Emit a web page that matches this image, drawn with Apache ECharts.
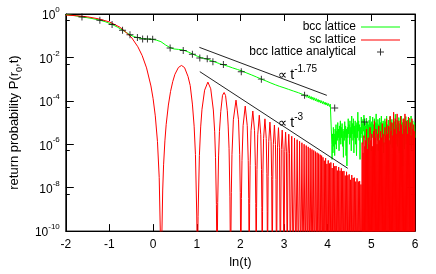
<!DOCTYPE html>
<html><head><meta charset="utf-8">
<script src="https://cdn.jsdelivr.net/npm/echarts@6/dist/echarts.min.js"></script>
<style>html,body{margin:0;padding:0;background:#fff}#c{width:436px;height:274px}</style>
</head><body><div id="c"></div>
<script>
// ---- data: [ln(t), P(r0,t)] ----
const xTicks = [-2, -1, 0, 1, 2, 3, 4, 5, 6];
const yExponents = [0, -2, -4, -6, -8, -10];

const bccSmooth = [[-2.0,0.93],[-1.8,0.84],[-1.63,0.74],[-1.4,0.62],[-1.22,0.52],[-1.08,0.43],[-0.94,0.33],[-0.82,0.25],[-0.70,0.18],[-0.61,0.14],[-0.53,0.11],[-0.45,0.093],[-0.36,0.082],[-0.24,0.073],[-0.13,0.070],[-0.01,0.068],[0.08,0.062],[0.18,0.053],[0.28,0.038],[0.38,0.029],[0.48,0.0245],[0.58,0.0234],[0.67,0.0224],[0.74,0.020],[0.82,0.0173],[0.93,0.0136],[1.02,0.0112],[1.11,0.0096],[1.18,0.0089],[1.26,0.0081],[1.33,0.0071],[1.41,0.0062],[1.52,0.0052],[1.63,0.0044],[1.72,0.0039],[1.82,0.0033],[1.93,0.0028],[2.04,0.00235],[2.15,0.0019],[2.26,0.00155],[2.37,0.00125],[2.48,0.0010],[2.59,8.2e-4],[2.70,6.6e-4],[2.80,5.5e-4],[2.89,4.7e-4],[3.0,4.0e-4],[3.1,3.4e-4],[3.22,2.8e-4],[3.33,2.36e-4],[3.42,2.0e-4],[3.48,1.8e-4]];
const bccBand = [[3.50,2.0e-4],[3.52,1.45e-4],[3.54,1.84e-4],[3.56,1.35e-4],[3.58,1.71e-4],[3.60,1.24e-4],[3.62,1.58e-4],[3.64,1.15e-4],[3.66,1.47e-4],[3.68,1.07e-4],[3.70,1.37e-4],[3.72,0.99e-4],[3.74,1.27e-4],[3.76,0.92e-4],[3.78,1.17e-4],[3.80,0.86e-4],[3.82,1.09e-4],[3.84,0.79e-4],[3.86,1.01e-4],[3.88,0.74e-4],[3.90,0.94e-4],[3.92,0.69e-4],[3.94,0.87e-4],[3.96,0.64e-4],[3.98,0.81e-4],[4.00,0.59e-4],[4.02,0.75e-4],[4.04,0.55e-4],[4.06,0.70e-4],[4.08,0.59e-4],[4.085,5.5e-5]];
const bccNoise = [[4.095,1e-6],[4.10,2e-7],[4.11,3e-6],[4.12,4e-7],[4.13,6e-6],[4.14,8e-7],[4.15,3e-6],[4.16,3e-7],[4.17,5e-6],[4.18,1e-6],[4.19,8e-6],[4.20,6e-7],[4.21,4e-6],[4.22,1.5e-6],[4.23,1e-5],[4.24,2e-6],[4.25,5e-6],[4.26,5e-7],[4.27,7e-6],[4.28,1.5e-6],[4.29,1.2e-5],[4.30,1e-6],[4.31,6e-6],[4.32,2e-6],[4.33,9e-6],[4.34,8e-7],[4.35,5e-6],[4.36,2.5e-7],[4.37,4e-6],[4.38,1.5e-6],[4.39,1.1e-5],[4.40,2e-6],[4.41,7e-6],[4.42,3e-7],[4.43,5e-6],[4.44,1e-7],[4.45,6e-6],[4.46,2e-6],[4.47,1.5e-5],[4.48,3e-6],[4.49,8e-6],[4.50,1e-6],[4.51,1.2e-5],[4.52,2e-6],[4.53,6e-6],[4.54,5e-7],[4.55,2e-5],[4.56,3e-6],[4.57,9e-6],[4.58,1.5e-6],[4.59,1.5e-5],[4.60,4e-7],[4.61,7e-6],[4.62,2e-6],[4.63,1.2e-5],[4.64,1e-6],[4.65,8e-6],[4.66,3e-7],[4.67,1e-5],[4.68,2e-6],[4.69,3e-5],[4.70,4e-6],[4.71,1.2e-5],[4.72,1.5e-6],[4.73,8e-6],[4.74,2e-7],[4.75,6e-6],[4.76,2e-6],[4.77,1.8e-5],[4.78,3e-6],[4.79,9e-6],[4.80,1e-6],[4.81,1.4e-5],[4.82,4e-6],[4.83,2.2e-5],[4.84,2e-6],[4.85,1e-5],[4.86,6e-7],[4.87,7e-6],[4.88,2.5e-6],[4.89,1.6e-5],[4.90,3e-6],[4.91,1e-5],[4.92,1.5e-7],[4.93,8e-6],[4.94,2e-6],[4.95,1.3e-5],[4.96,1e-6],[4.97,2e-5],[4.98,3e-6],[4.99,9e-6],[5.00,5e-7],[5.01,1.1e-5],[5.02,2e-6],[5.03,1.8e-5],[5.04,4e-6],[5.05,8e-6],[5.06,1e-6],[5.07,1.5e-5],[5.08,3e-7],[5.09,1e-5],[5.10,2e-6],[5.11,2.5e-5],[5.12,3e-6],[5.13,9e-6],[5.14,1.5e-6],[5.15,1.4e-5],[5.16,5e-7],[5.17,8e-6],[5.18,2e-6],[5.19,1.6e-5],[5.20,1e-6],[5.21,1e-5],[5.22,3e-6],[5.23,2e-5],[5.24,8e-7],[5.25,7e-6],[5.26,2e-6],[5.27,1.2e-5],[5.28,4e-7],[5.29,9e-6],[5.30,2.5e-6],[5.31,1.5e-5],[5.32,1e-6],[5.33,1.1e-5],[5.34,3e-6],[5.35,2e-5],[5.36,6e-7],[5.37,8e-6],[5.38,1.5e-6],[5.39,1.3e-5],[5.40,4e-8],[5.41,6e-6],[5.42,2e-6],[5.43,1.8e-5],[5.44,1e-6],[5.45,1e-5],[5.46,3e-6],[5.47,1.4e-5],[5.48,7e-7],[5.49,9e-6],[5.50,2e-6],[5.51,1.6e-5],[5.52,5e-7],[5.53,1.1e-5],[5.54,2e-6],[5.55,2.4e-5],[5.56,1e-6],[5.57,8e-6],[5.58,3e-6],[5.59,1.3e-5],[5.60,8e-7],[5.61,1e-5],[5.62,2e-6],[5.63,1.7e-5],[5.64,4e-7],[5.65,9e-6],[5.66,2.5e-6],[5.67,1.4e-5],[5.68,1e-6],[5.69,2e-5],[5.70,3e-6],[5.71,1e-5],[5.72,1e-7],[5.73,7e-6],[5.74,2e-6],[5.75,1.5e-5],[5.76,6e-7],[5.77,1.1e-5],[5.78,3e-6],[5.79,1.9e-5],[5.80,1e-6],[5.81,9e-6],[5.82,2e-6],[5.83,1.3e-5],[5.84,4e-7],[5.85,8e-6],[5.86,2.5e-6],[5.87,1.6e-5],[5.88,1e-6],[5.89,1e-5],[5.90,3e-6],[5.91,2e-5],[5.92,6e-7],[5.93,9e-6],[5.94,2e-6],[5.95,1.2e-5],[5.96,1e-6],[5.97,7e-6],[5.98,3e-6],[5.99,1e-5],[6.00,2e-6]];

const bccAnalytical = [[-1.63,0.73],[-1.22,0.52],[-0.94,0.33],[-0.70,0.18],[-0.53,0.11],[-0.36,0.082],[-0.24,0.071],[-0.13,0.071],[-0.01,0.069],[0.39,0.027],[0.69,0.021],[0.90,0.014],[1.07,0.0093],[1.24,0.0087],[1.37,0.0064],[1.61,0.0047],[2.02,0.0022],[2.48,0.001],[3.47,1.8e-4],[4.16,4.7e-5],[4.85,1.07e-5]];

const scDecay = [[-2,0.896],[-1.75,0.83],[-1.5,0.739],[-1.25,0.60],[-1,0.431],[-0.75,0.241],[-0.5,0.086],[-0.35,0.031],[-0.25,0.0121],[-0.15,3.29e-3],[-0.05,4.85e-4],[0,1.26e-4],[0.05,2.03e-5],[0.1,1.32e-6],[0.14,2.9e-8],[0.17,2.9e-11]];
const scArches = [
 [0.20,6e-11],[0.22,7.8e-9],[0.24,1.13e-7],[0.27,1.43e-6],[0.30,8.3e-6],[0.35,6.4e-5],[0.40,2.73e-4],[0.45,7.7e-4],[0.50,1.67e-3],[0.58,3.45e-3],[0.65,4.27e-3],[0.72,3.41e-3],[0.80,1.32e-3],[0.85,5.1e-4],[0.90,7.1e-5],[0.94,6.8e-6],[0.97,3.4e-7],[1.00,5.5e-10],
 [1.03,4.8e-10],[1.06,3.0e-7],[1.09,6.3e-6],[1.12,4.1e-5],[1.18,3.1e-4],[1.255,7.3e-4],[1.32,3.6e-4],[1.38,3.8e-5],[1.41,4.0e-6],[1.43,2.4e-7],[1.45,1.7e-9],
 [1.48,2.1e-9],[1.50,2.9e-7],[1.52,3.9e-6],[1.55,3.2e-5],[1.59,1.8e-4],[1.627,2.42e-4],[1.66,1.75e-4],[1.70,3.5e-5],[1.72,6.9e-6],[1.74,6.5e-7],[1.76,3.8e-9],
 [1.7918,5.9e-9],[1.8070,3.4e-7],[1.8387,1.35e-5],[1.8992,1.08e-4],[1.9563,1.35e-5],[1.9836,3.4e-7],[1.9971,5.9e-9],
 [2.0234,3.2e-9],[2.0363,1.8e-7],[2.0616,7.2e-6],[2.1103,5.74e-5],[2.1568,7.2e-6],[2.1792,1.8e-7],[2.1903,3.2e-9],
 [2.2120,1.9e-9],[2.2227,1.07e-7],[2.2437,4.25e-6],[2.2844,3.40e-5],[2.3237,4.25e-6],[2.3427,1.07e-7],[2.3521,1.9e-9],
 [2.3706,1.2e-9],[2.3798,6.9e-8],[2.3977,2.73e-6],[2.4328,2.18e-5],[2.4667,2.73e-6],[2.4832,6.9e-8],[2.4914,1.2e-9],
 [2.5075,8e-10],[2.5155,4.6e-8],[2.5312,1.85e-6],[2.5620,1.48e-5],[2.5918,1.85e-6],[2.6064,4.6e-8],[2.6136,8e-10],
 [2.6350,3.3e-8],[2.6490,1.31e-6],[2.6763,1.05e-5],[2.7031,1.31e-6],[2.7161,3.3e-8],
 [2.7418,2.4e-8],[2.7544,9.7e-7],[2.7790,7.7e-6],[2.8031,9.7e-7],[2.8149,2.4e-8],
 [2.8496,7.3e-7],[2.8721,5.8e-6],[2.8940,7.3e-7],
 [2.9365,5.7e-7],[2.9573,4.5e-6],[2.9774,5.7e-7],
 [3.0166,4.5e-7],[3.0356,3.6e-6],[3.0543,4.5e-7],
 [3.0907,3.6e-7],[3.1083,2.9e-6],[3.1258,3.6e-7],
 [3.1762,2.35e-6],[3.2398,1.94e-6],[3.2995,1.62e-6],[3.3558,1.37e-6],[3.4091,1.17e-6],[3.4596,1.00e-6],[3.5079,8.7e-7],[3.5539,7.6e-7],[3.5979,6.6e-7],[3.6400,5.8e-7],[3.6804,5.2e-7],[3.7193,4.6e-7],[3.7566,4.1e-7],[3.7927,3.7e-7],[3.8275,3.3e-7],[3.8611,3.0e-7]];
const scDensePeaks = [[3.892,2.5e-7],[3.922,1.75e-7],[3.952,2.3e-7],[3.982,1.25e-7],[4.012,1.8e-7],[4.042,1.3e-7],[4.072,1.45e-7],[4.102,8e-8],[4.132,1.34e-7],[4.162,9.8e-8],[4.192,1.0e-7],[4.222,6.1e-8],[4.252,8.9e-8],[4.282,6.0e-8],[4.312,7.8e-8],[4.342,5.7e-8],[4.372,5.9e-8],[4.402,3.6e-8],[4.432,5.4e-8],[4.462,3.7e-8],[4.492,4.1e-8],[4.522,2.3e-8],[4.552,3.8e-8],[4.582,2.8e-8],[4.612,2.9e-8],[4.642,1.9e-8],[4.672,2.7e-8],[4.702,1.9e-8],[4.732,2.0e-8],[4.762,1.4e-8]];
const scNoisePeaks = [[4.79,1.2e-6],[4.81,4e-7],[4.83,2.5e-6],[4.85,8e-7],[4.87,1.5e-6],[4.89,5e-6],[4.91,6e-7],[4.93,2e-6],[4.95,1e-6],[4.97,6e-6],[4.99,1.5e-6],[5.01,3e-6],[5.03,8e-7],[5.05,4e-6],[5.07,1.2e-5],[5.09,2e-6],[5.11,5e-6],[5.13,1e-6],[5.15,3e-6],[5.17,7e-6],[5.19,1.5e-6],[5.21,4e-6],[5.23,2e-6],[5.25,9e-6],[5.27,3e-6],[5.29,1.2e-6],[5.31,6e-6],[5.33,2.5e-6],[5.35,1.5e-5],[5.37,3e-6],[5.39,7e-6],[5.41,1.5e-6],[5.43,2e-5],[5.45,4e-6],[5.47,1e-5],[5.49,2.5e-6],[5.51,3e-5],[5.53,5e-6],[5.55,1.5e-5],[5.57,3e-6],[5.59,2.5e-5],[5.61,6e-6],[5.63,1.2e-5],[5.65,4e-6],[5.67,2e-5],[5.69,8e-6],[5.71,3e-6],[5.73,1.5e-5],[5.75,5e-6],[5.77,2.5e-5],[5.79,7e-6],[5.81,1.2e-5],[5.83,3e-6],[5.85,1.8e-5],[5.87,6e-6],[5.89,1e-5],[5.91,2.5e-6],[5.93,1.5e-5],[5.95,5e-6],[5.97,8e-6],[5.99,4e-6]];
// ln(t) where the sc return probability is zero
const scZeros = [0.1843,1.0153,1.4648,1.7743,2.0103,2.2012,2.3614,2.4995,2.6208,2.7290,2.8266,2.9155,2.9972,3.0727,3.1429,3.2085,3.2700,3.3280,3.3828,3.4348,3.4842,3.5313,3.5762,3.6192,3.6604,3.7000,3.7381,3.7748,3.8102,3.8444,3.8774,
 3.907,3.937,3.967,3.997,4.027,4.057,4.087,4.117,4.147,4.177,4.207,4.237,4.267,4.297,4.327,4.357,4.387,4.417,4.447,4.477,4.507,4.537,4.567,4.597,4.627,4.657,4.687,4.717,4.747,4.777,
 4.80,4.82,4.84,4.86,4.88,4.90,4.92,4.94,4.96,4.98,5.00,5.02,5.04,5.06,5.08,5.10,5.12,5.14,5.16,5.18,5.20,5.22,5.24,5.26,5.28,5.30,5.32,5.34,5.36,5.38,5.40,5.42,5.44,5.46,5.48,5.50,5.52,5.54,5.56,5.58,5.60,5.62,5.64,5.66,5.68,5.70,5.72,5.74,5.76,5.78,5.80,5.82,5.84,5.86,5.88,5.90,5.92,5.94,5.96,5.98,6.00];

const guide175 = [[1.06,0.0291],[3.98,1.79e-4]];
const guide3 = [[1.07,2.21e-3],[4.46,7.8e-8]];

// ---- build ----
const FONT = 'Liberation Sans, Arial, Helvetica, sans-serif';
const BELOW = 1e-12; // a zero of P is drawn below the axis floor
const scData = scDecay.concat(scArches, scDensePeaks, scNoisePeaks, scZeros.map(x => [x, 0]))
  .sort((a, b) => a[0] - b[0]).map(p => [p[0], p[1] > 0 ? p[1] : BELOW]);
const bccData = bccSmooth.concat(bccBand, bccNoise);

const chart = echarts.init(document.getElementById('c'), null, {renderer: 'canvas'});
const yLabel = v => {
  const e = Math.round(Math.log10(v));
  return yExponents.indexOf(e) >= 0 ? '{b|10}{s|' + e + '}' : '';
};
const plus = 'path://M4.3,0H5.7V4.3H10V5.7H5.7V10H4.3V5.7H0V4.3H4.3Z';
// legend icons: a 39px wide line, and a plus centred in a 39px wide box
const lineIcon = 'path://M0,0H39V1H0Z';
const plusIcon = 'path://M0,0h0.01v0.01h-0.01zM39,0h0.01v0.01h-0.01zM19,-3h1v3h3v1h-3v3h-1v-3h-3v-1h3z';
const legendBase = {orient: 'vertical', align: 'right', right: 36, itemWidth: 39, itemHeight: 7,
  selectedMode: false, padding: 0, textStyle: {fontSize: 12, color: '#000', fontFamily: FONT}};
const GREEN = '#00ff00', RED = '#ff0000';

chart.setOption({
  animation: false,
  backgroundColor: '#fff',
  textStyle: {fontFamily: FONT},
  grid: {left: 55, right: 21, top: 14, bottom: 37, show: true, borderColor: '#000', borderWidth: 1, containLabel: false},
  legend: [
    Object.assign({}, legendBase, {top: 21, data: [{name: 'bcc lattice', icon: lineIcon}]}),
    Object.assign({}, legendBase, {top: 34, data: [{name: 'sc lattice', icon: lineIcon}]}),
    Object.assign({}, legendBase, {top: 46, data: [{name: 'bcc lattice analytical', icon: plusIcon}]})
  ],
  xAxis: [
    {type: 'value', min: xTicks[0], max: xTicks[xTicks.length - 1], interval: 1, position: 'bottom',
     name: 'ln(t)', nameLocation: 'middle', nameGap: 23, nameTextStyle: {fontSize: 13, color: '#000', fontFamily: FONT},
     axisLine: {show: true, onZero: false, lineStyle: {color: '#000'}},
     axisTick: {inside: true, length: 7, lineStyle: {color: '#000'}},
     axisLabel: {color: '#000', fontSize: 12, margin: 8, fontFamily: FONT},
     splitLine: {show: false}},
    {type: 'value', min: xTicks[0], max: xTicks[xTicks.length - 1], interval: 1, position: 'top',
     axisLine: {show: true, onZero: false, lineStyle: {color: '#000'}},
     axisTick: {inside: true, length: 7, lineStyle: {color: '#000'}},
     axisLabel: {show: false}, splitLine: {show: false}}
  ],
  yAxis: [
    {type: 'log', logBase: 10, min: 1e-10, max: 1, interval: 2, position: 'left',
     name: '{a|return probability P(r}{sub|0}{a|,t)}', nameLocation: 'middle', nameGap: 36, nameRotate: 90,
     nameTextStyle: {color: '#000', rich: {a: {fontSize: 13, color: '#000', fontFamily: FONT, lineHeight: 16, verticalAlign: 'top'}, sub: {fontSize: 9, color: '#000', fontFamily: FONT, lineHeight: 16, verticalAlign: 'bottom', padding: [4,0,0,0]}}},
     axisLine: {show: true, onZero: false, lineStyle: {color: '#000'}},
     axisTick: {inside: true, length: 8, lineStyle: {color: '#000'}},
     minorTick: {show: true, splitNumber: 2, length: 4, lineStyle: {color: '#000'}},
     axisLabel: {color: '#000', margin: 6, formatter: yLabel,
       rich: {b: {fontSize: 12, color: '#000', fontFamily: FONT, lineHeight: 16, verticalAlign: 'bottom'},
              s: {fontSize: 8, color: '#000', fontFamily: FONT, lineHeight: 10, verticalAlign: 'top'}}},
     splitLine: {show: false}, minorSplitLine: {show: false}},
    {type: 'log', logBase: 10, min: 1e-10, max: 1, interval: 2, position: 'right',
     axisLine: {show: true, onZero: false, lineStyle: {color: '#000'}},
     axisTick: {inside: true, length: 8, lineStyle: {color: '#000'}},
     minorTick: {show: true, splitNumber: 2, length: 4, lineStyle: {color: '#000'}},
     axisLabel: {show: false}, splitLine: {show: false}, minorSplitLine: {show: false}}
  ],
  series: [
    {name: 'bcc lattice', type: 'line', data: bccData, symbol: 'none', showSymbol: false,
     lineStyle: {color: GREEN, width: 1}, itemStyle: {color: GREEN}, clip: true, z: 2},
    {name: 'sc lattice', type: 'line', data: scData, symbol: 'none', showSymbol: false,
     lineStyle: {color: RED, width: 1}, itemStyle: {color: RED}, clip: true, z: 3},
    {name: 'guide175', type: 'line', data: guide175, symbol: 'none', lineStyle: {color: '#222', width: 1}, z: 4, silent: true},
    {name: 'guide3', type: 'line', data: guide3, symbol: 'none', lineStyle: {color: '#222', width: 1}, z: 4, silent: true},
    {name: 'bcc lattice analytical', type: 'scatter', data: bccAnalytical, symbol: plus, symbolSize: 7,
     itemStyle: {color: '#000'}, z: 5}
  ],
  graphic: [
    {type: 'text', left: 278, top: 64, z: 10, style: {text: '{p|∝} {t|t}{s|-1.75}', rich: {
      p: {fontSize: 13, fill: '#000', lineHeight: 18, verticalAlign: 'bottom'},
      t: {fontSize: 14, fill: '#000', lineHeight: 18, verticalAlign: 'bottom', fontFamily: FONT},
      s: {fontSize: 10, fill: '#000', lineHeight: 10, verticalAlign: 'top', fontFamily: FONT}}}},
    {type: 'text', left: 278, top: 112, z: 10, style: {text: '{p|∝} {t|t}{s|-3}', rich: {
      p: {fontSize: 13, fill: '#000', lineHeight: 18, verticalAlign: 'bottom'},
      t: {fontSize: 14, fill: '#000', lineHeight: 18, verticalAlign: 'bottom', fontFamily: FONT},
      s: {fontSize: 10, fill: '#000', lineHeight: 10, verticalAlign: 'top', fontFamily: FONT}}}}
  ]
});
</script></body></html>
